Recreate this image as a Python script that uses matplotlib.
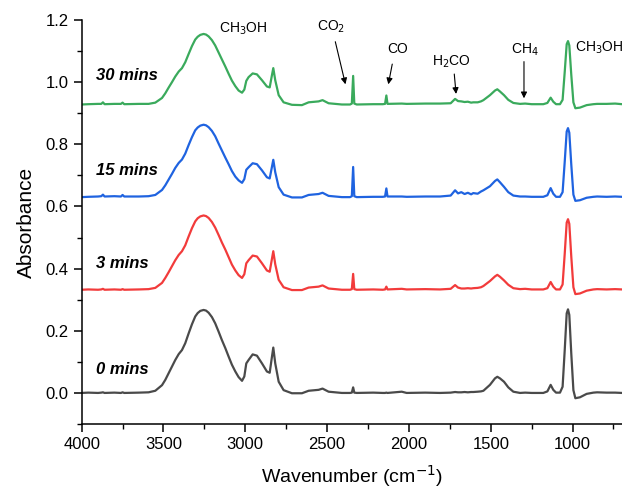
import matplotlib
matplotlib.use("Agg")
import matplotlib.pyplot as plt
from matplotlib.ticker import MultipleLocator, FormatStrFormatter

plt.rcParams['font.family'] = ['Liberation Sans', 'DejaVu Sans']

# ---------------- data ----------------
wavenumber = [
    4000, 3960, 3900, 3880, 3870, 3860, 3800, 3760, 3750, 3740, 3650,
    3591, 3550, 3509, 3489, 3469, 3448, 3428, 3407, 3387, 3367,
    3346, 3326, 3306, 3291, 3275, 3255, 3240, 3224, 3204, 3184,
    3163, 3143, 3122, 3102, 3082, 3061, 3041, 3020,
    3006, 2994, 2980, 2955, 2929, 2898, 2868, 2851, 2837, 2829, 2817, 2796, 2766,
    2715, 2654, 2613, 2552, 2528, 2491, 2410,
    2360, 2349, 2341, 2334, 2319,
    2218, 2160, 2146, 2138, 2131, 2044, 2014, 1900, 1810,
    1745, 1718, 1700, 1680, 1660, 1640, 1620, 1607, 1580, 1560, 1545,
    1505, 1474, 1460, 1444, 1419, 1393, 1362, 1321, 1290, 1250, 1179,
    1154, 1134, 1118, 1101, 1077, 1061, 1048, 1036, 1028, 1020, 1008, 995, 983, 955, 914, 873, 850, 792, 740, 698, 660,
]

abs_0min = [
    0, 0.001, 0, 0.001, 0.002, 0, 0.001, 0, 0.002, 0, 0.001,
    0.002, 0.007, 0.025, 0.042, 0.063, 0.085, 0.106, 0.125, 0.138, 0.160,
    0.192, 0.221, 0.246, 0.257, 0.264, 0.267, 0.265, 0.258, 0.244, 0.224,
    0.197, 0.170, 0.144, 0.117, 0.091, 0.069, 0.051, 0.039,
    0.053, 0.095, 0.106, 0.124, 0.120, 0.095, 0.069, 0.065, 0.117, 0.146, 0.095, 0.036, 0.009,
    -0.001, -0.001, 0.007, 0.010, 0.014, 0.004, 0.0,
    0, 0.001, 0.018, 0.001, 0,
    0.001, 0, 0, 0.001, 0, 0.004, 0, 0.001, 0,
    0.001, 0.003, 0.002, 0.002, 0.003, 0.002, 0.003, 0.003, 0.004, 0.005, 0.007,
    0.026, 0.047, 0.052, 0.047, 0.036, 0.018, 0.004, 0, 0.001, 0, 0,
    0.005, 0.026, 0.010, 0.001, 0.001, 0.020, 0.138, 0.256, 0.269, 0.251, 0.127, 0.009, -0.017, -0.014, -0.003, 0.001, 0.002, 0.001, 0.001, 0, 0,
]

abs_3min = [
    0, 0.001, 0, 0.001, 0.003, 0, 0.001, 0, 0.002, 0, 0.001,
    0.002, 0.006, 0.022, 0.038, 0.056, 0.076, 0.095, 0.112, 0.124, 0.143,
    0.172, 0.198, 0.220, 0.230, 0.236, 0.239, 0.237, 0.231, 0.218, 0.200,
    0.176, 0.152, 0.129, 0.105, 0.081, 0.062, 0.047, 0.038,
    0.050, 0.085, 0.095, 0.110, 0.107, 0.085, 0.062, 0.058, 0.100, 0.124, 0.082, 0.032, 0.008,
    -0.001, -0.001, 0.007, 0.010, 0.014, 0.004, 0.0,
    0, 0.002, 0.051, 0.002, 0,
    0.001, 0, 0.001, 0.010, 0.001, 0.003, 0.001, 0.002, 0.001,
    0.003, 0.015, 0.007, 0.004, 0.004, 0.005, 0.004, 0.005, 0.006, 0.008, 0.012,
    0.028, 0.043, 0.048, 0.042, 0.030, 0.016, 0.005, 0.002, 0.003, 0.001, 0.001,
    0.005, 0.025, 0.010, 0.001, 0.001, 0.017, 0.116, 0.216, 0.227, 0.212, 0.107, 0.008, -0.014, -0.012, -0.003, 0.001, 0.002, 0.001, 0.002, 0.001, 0.001,
]

abs_15min = [
    0, 0.001, 0.002, 0.003, 0.008, 0.002, 0.003, 0.002, 0.007, 0.002, 0.002,
    0.003, 0.007, 0.023, 0.038, 0.056, 0.075, 0.094, 0.110, 0.121, 0.140,
    0.168, 0.193, 0.215, 0.224, 0.230, 0.233, 0.231, 0.225, 0.213, 0.196,
    0.172, 0.150, 0.127, 0.106, 0.084, 0.066, 0.054, 0.046,
    0.058, 0.088, 0.096, 0.109, 0.106, 0.086, 0.064, 0.060, 0.098, 0.120, 0.080, 0.032, 0.008,
    -0.001, -0.001, 0.007, 0.010, 0.014, 0.004, 0.0,
    0, 0.003, 0.097, 0.003, 0,
    0.001, 0.001, 0.002, 0.028, 0.002, 0.002, 0.001, 0.002, 0.002,
    0.005, 0.022, 0.012, 0.016, 0.010, 0.014, 0.009, 0.013, 0.011, 0.018, 0.022,
    0.035, 0.052, 0.057, 0.048, 0.033, 0.016, 0.005, 0.002, 0.002, 0.001, 0.001,
    0.006, 0.029, 0.011, 0.001, 0.001, 0.016, 0.114, 0.211, 0.222, 0.207, 0.105, 0.008, -0.012, -0.010, -0.002, 0.001, 0.002, 0.001, 0.002, 0.001, 0.001,
]

abs_30min = [
    0, 0.001, 0.002, 0.002, 0.007, 0.001, 0.002, 0.002, 0.006, 0.001, 0.002,
    0.002, 0.006, 0.021, 0.036, 0.054, 0.072, 0.090, 0.106, 0.117, 0.136,
    0.163, 0.188, 0.209, 0.218, 0.224, 0.227, 0.225, 0.219, 0.207, 0.190,
    0.167, 0.145, 0.122, 0.099, 0.077, 0.059, 0.045, 0.038,
    0.048, 0.076, 0.088, 0.100, 0.097, 0.078, 0.058, 0.055, 0.095, 0.117, 0.078, 0.030, 0.007,
    -0.001, -0.002, 0.007, 0.010, 0.014, 0.004, 0.0,
    0, 0.003, 0.092, 0.003, 0,
    0.001, 0.001, 0.002, 0.029, 0.002, 0.003, 0.002, 0.003, 0.003,
    0.004, 0.018, 0.011, 0.010, 0.008, 0.009, 0.006, 0.007, 0.007, 0.010, 0.014,
    0.030, 0.045, 0.049, 0.042, 0.030, 0.015, 0.005, 0.002, 0.003, 0.001, 0.001,
    0.005, 0.022, 0.009, 0.001, 0.001, 0.015, 0.105, 0.194, 0.204, 0.190, 0.096, 0.007, -0.012, -0.010, -0.002, 0.001, 0.002, 0.002, 0.003, 0.001, 0.001,
]

series_labels = ["0 mins", "3 mins", "15 mins", "30 mins"]
series_offsets = [0.0, 0.332, 0.630, 0.928]
series_colors = ["#4a4a4a", "#f23b3b", "#1f63e0", "#3aaa5c"]
series_values = [abs_0min, abs_3min, abs_15min, abs_30min]

# peak annotations: text, text position (wn, y), arrow start/end (wn, y)
annot_texts = ["CO$_2$", "CO", "H$_2$CO", "CH$_4$"]
annot_text_x = [2478, 2068, 1739, 1290]
annot_text_y = [1.178, 1.106, 1.066, 1.103]
arrow_from_x = [2450, 2102, 1723, 1297]
arrow_from_y = [1.130, 1.058, 1.026, 1.066]
arrow_to_x = [2388, 2126, 1712, 1297]
arrow_to_y = [0.993, 0.993, 0.962, 0.948]

# ---------------- figure ----------------
fig = plt.figure(figsize=(6.22, 4.88), dpi=100)
ax = fig.add_axes([0.1313, 0.1311, 0.8687, 0.828])

for vals, off, col in zip(series_values, series_offsets, series_colors):
    ax.plot(wavenumber, [v + off for v in vals], color=col, lw=1.6,
            solid_joinstyle='round')

label_y = [0.076, 0.417, 0.717, 1.020]
for lab, ly in zip(series_labels, label_y):
    ax.text(3915, ly, lab, fontsize=12, fontweight='bold', fontstyle='italic',
            ha='left', va='center')

ax.text(3013, 1.170, "CH$_3$OH", fontsize=10, ha='center', va='center')
ax.text(988, 1.109, "CH$_3$OH", fontsize=10, ha='left', va='center', clip_on=False)

for t, tx, ty, fx, fy, ex, ey in zip(annot_texts, annot_text_x, annot_text_y,
                                     arrow_from_x, arrow_from_y, arrow_to_x, arrow_to_y):
    ax.text(tx, ty, t, fontsize=10, ha='center', va='center')
    ax.annotate("", xy=(ex, ey), xytext=(fx, fy),
                arrowprops=dict(arrowstyle='-|>', color='black', lw=0.8,
                                mutation_scale=9, shrinkA=0, shrinkB=0))

ax.set_xlim(4000, 698)
ax.set_ylim(-0.1, 1.2)

ax.spines['top'].set_visible(False)
ax.spines['right'].set_visible(False)
for s in ['left', 'bottom']:
    ax.spines[s].set_linewidth(1.1)

ax.xaxis.set_major_locator(MultipleLocator(500))
ax.xaxis.set_minor_locator(MultipleLocator(250))
ax.yaxis.set_major_locator(MultipleLocator(0.2))
ax.yaxis.set_minor_locator(MultipleLocator(0.1))
ax.yaxis.set_major_formatter(FormatStrFormatter('%.1f'))
ax.tick_params(which='major', direction='out', length=6, width=1.1, labelsize=12)
ax.tick_params(which='minor', direction='out', length=3.5, width=1.0)
ax.tick_params(axis='x', which='both', top=False)
ax.tick_params(axis='y', which='both', right=False)

ax.set_xlabel("Wavenumber (cm$^{-1}$)", fontsize=14, labelpad=8)
ax.set_ylabel("Absorbance", fontsize=15, labelpad=7)

fig.savefig("out.png", dpi=100)
